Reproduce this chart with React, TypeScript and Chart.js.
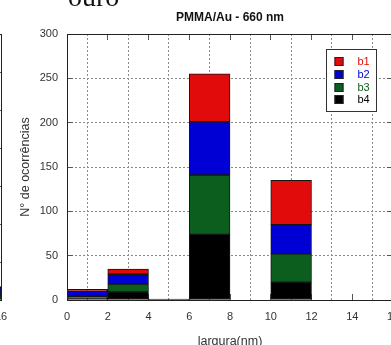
import React, { useEffect, useRef } from "react";
import { Chart, registerables } from "chart.js";

Chart.register(...registerables);

// Histogram bins (centres of 2 nm wide bins on 0..16 nm)
const binCenters = [1, 3, 5, 7, 9, 11, 13, 15];

// PMMA/Au - 660 nm: occurrences per class, stacked b4 (bottom) .. b1 (top)
const b1 = [2, 6, 0, 54, 0, 50, 0, 0];
const b2 = [6, 11, 0, 60, 0, 33, 0, 0];
const b3 = [2, 9, 0, 67, 0, 32, 0, 0];
const b4 = [2, 9, 1, 74, 0, 20, 0, 0];

// neighbouring panel ("ouro"), only its last bin shows at the left edge
const ouroB1 = [0, 0, 0, 0, 0, 0, 0, 0];
const ouroB2 = [0, 0, 0, 0, 0, 0, 0, 4];
const ouroB3 = [0, 0, 0, 0, 0, 0, 0, 3];
const ouroB4 = [0, 0, 0, 0, 0, 0, 0, 0];

const seriesNames = ["b1", "b2", "b3", "b4"];
const seriesColors = ["#e10b0b", "#0000d4", "#0b5e1e", "#000000"];

const xTitle = "largura(nm)";
const yTitle = "N° de ocorrências";
const mainTitle = "PMMA/Au - 660 nm";
const sideCaption = "ouro";

const FONT = 'Arial, "Liberation Sans", Helvetica, sans-serif';

const W = 402;
const H = 352;
const PLOT_LEFT = 67;
const PLOT_RIGHT = 393;

const align = (p: number) => Math.round(p - 0.5) + 0.5;

// short tick marks drawn inward from the frame
const innerTicks = {
  id: "innerTicks",
  beforeDatasetsDraw(chart: any) {
    const { ctx, chartArea: a, scales } = chart;
    const len = 6;
    ctx.save();
    ctx.strokeStyle = "#555";
    ctx.lineWidth = 1;
    ctx.beginPath();
    for (const t of scales.x.ticks) {
      const px = align(scales.x.getPixelForValue(t.value));
      ctx.moveTo(px, a.bottom);
      ctx.lineTo(px, a.bottom - len);
      ctx.moveTo(px, a.top);
      ctx.lineTo(px, a.top + len);
    }
    for (const t of scales.y.ticks) {
      const py = align(scales.y.getPixelForValue(t.value));
      ctx.moveTo(a.left, py);
      ctx.lineTo(a.left + len, py);
      ctx.moveTo(a.right, py);
      ctx.lineTo(a.right - len, py);
    }
    ctx.stroke();
    ctx.restore();
  },
};

// closed frame around the plot area
const frame = {
  id: "frame",
  afterDatasetsDraw(chart: any) {
    const { ctx, chartArea: a } = chart;
    ctx.save();
    ctx.strokeStyle = "#222";
    ctx.lineWidth = 1;
    const l = align(a.left);
    const t = align(a.top);
    const r = align(a.right);
    const b = align(a.bottom);
    ctx.strokeRect(l, t, r - l, b - t);
    ctx.restore();
  },
};

// boxed legend inside the plot area, upper right
const boxLegend = {
  id: "boxLegend",
  afterDraw(chart: any, _args: any, opts: any) {
    const { ctx, chartArea: a } = chart;
    const x0 = a.left + opts.dx;
    const y0 = a.top + opts.dy;
    const w = 50;
    const h = 62;
    ctx.save();
    ctx.fillStyle = "#fff";
    ctx.fillRect(x0, y0, w, h);
    ctx.strokeStyle = "#333";
    ctx.lineWidth = 1;
    ctx.strokeRect(align(x0), align(y0), w, h);
    ctx.font = `11px ${FONT}`;
    ctx.textBaseline = "middle";
    ctx.textAlign = "left";
    seriesNames.forEach((name, i) => {
      const cy = y0 + 12.5 + i * 12.8;
      ctx.fillStyle = seriesColors[i];
      ctx.fillRect(x0 + 8, Math.round(cy - 4.5), 9, 9);
      ctx.strokeStyle = "#222";
      ctx.strokeRect(x0 + 8.5, Math.round(cy - 4.5) + 0.5, 8, 8);
      ctx.fillStyle = seriesColors[i];
      ctx.fillText(name, x0 + 31, cy + 0.5);
    });
    ctx.restore();
  },
};

function makeDatasets(series: number[][]) {
  // stacking order: b4 at the bottom, b1 on top
  const order = [3, 2, 1, 0];
  return order.map((i) => ({
    label: seriesNames[i],
    data: binCenters.map((x, k) => ({ x, y: series[i][k] })),
    backgroundColor: seriesColors[i],
    borderColor: "#151515",
    borderWidth: 1,
    borderSkipped: false as const,
    barPercentage: 1,
    categoryPercentage: 1,
  }));
}

function makeConfig(
  series: number[][],
  yMax: number,
  yStep: number,
  withTitles: boolean
): any {
  return {
    type: "bar",
    data: { datasets: makeDatasets(series) },
    options: {
      responsive: false,
      animation: false,
      events: [],
      layout: {
        padding: {
          left: 0,
          right: W - PLOT_RIGHT,
          top: withTitles ? 0 : 34,
          bottom: 0,
        },
      },
      plugins: {
        legend: { display: false },
        tooltip: { enabled: false },
        title: {
          display: withTitles,
          text: mainTitle,
          fullSize: false,
          color: "#111",
          font: { family: FONT, size: 12, weight: "bold", lineHeight: 1.2 },
          padding: { top: 10, bottom: 9.6 },
        },
        boxLegend: { dx: 259.5, dy: 15 },
      },
      scales: {
        x: {
          type: "linear",
          stacked: true,
          offset: false,
          min: 0,
          max: 16,
          afterFit: (s: any) => {
            s.height = 52;
            s.paddingLeft = 0;
            s.paddingRight = 0;
          },
          ticks: {
            stepSize: 2,
            padding: 10,
            color: "#333",
            font: { family: FONT, size: 11 },
            maxRotation: 0,
          },
          grid: { color: "#8a8a8a", lineWidth: 1, drawTicks: false },
          border: { display: false, dash: [2, 2] },
          title: {
            display: withTitles,
            text: xTitle,
            color: "#333",
            font: { family: FONT, size: 12.5, lineHeight: 1.2 },
            padding: { top: 0, bottom: 2.5 },
          },
        },
        y: {
          stacked: true,
          min: 0,
          max: yMax,
          afterFit: (s: any) => {
            s.width = PLOT_LEFT;
          },
          ticks: {
            stepSize: yStep,
            padding: 9,
            color: "#333",
            font: { family: FONT, size: 11 },
          },
          grid: { color: "#8a8a8a", lineWidth: 1, drawTicks: false },
          border: { display: false, dash: [2, 2] },
          title: {
            display: withTitles,
            text: yTitle,
            color: "#333",
            font: { family: FONT, size: 12.5, lineHeight: 1.2 },
            padding: { top: 18, bottom: 0 },
          },
        },
      },
    },
    plugins: withTitles ? [innerTicks, frame, boxLegend] : [innerTicks, frame],
  };
}

export default function App() {
  const mainRef = useRef<HTMLCanvasElement | null>(null);
  const sideRef = useRef<HTMLCanvasElement | null>(null);

  useEffect(() => {
    const charts: Chart[] = [];
    if (sideRef.current) {
      charts.push(
        new Chart(
          sideRef.current,
          makeConfig([ouroB1, ouroB2, ouroB3, ouroB4], 140, 20, false)
        )
      );
    }
    if (mainRef.current) {
      charts.push(
        new Chart(mainRef.current, makeConfig([b1, b2, b3, b4], 300, 50, true))
      );
    }
    return () => charts.forEach((c) => c.destroy());
  }, []);

  return (
    <div
      style={{
        position: "fixed",
        left: 0,
        top: 0,
        width: 391,
        height: 345,
        overflow: "hidden",
        background: "#fff",
      }}
    >
      <canvas
        ref={sideRef}
        width={W}
        height={H}
        style={{
          position: "absolute",
          left: 1 - PLOT_RIGHT,
          top: 0,
          width: W,
          height: H,
        }}
      />
      <canvas
        ref={mainRef}
        width={W}
        height={H}
        style={{ position: "absolute", left: 0, top: 0, width: W, height: H }}
      />
      <div
        style={{
          position: "absolute",
          left: 68,
          top: -17,
          font: '28px "Liberation Serif", "Times New Roman", serif',
          lineHeight: "28px",
          color: "#111",
          whiteSpace: "nowrap",
        }}
      >
        {sideCaption}
      </div>
    </div>
  );
}
